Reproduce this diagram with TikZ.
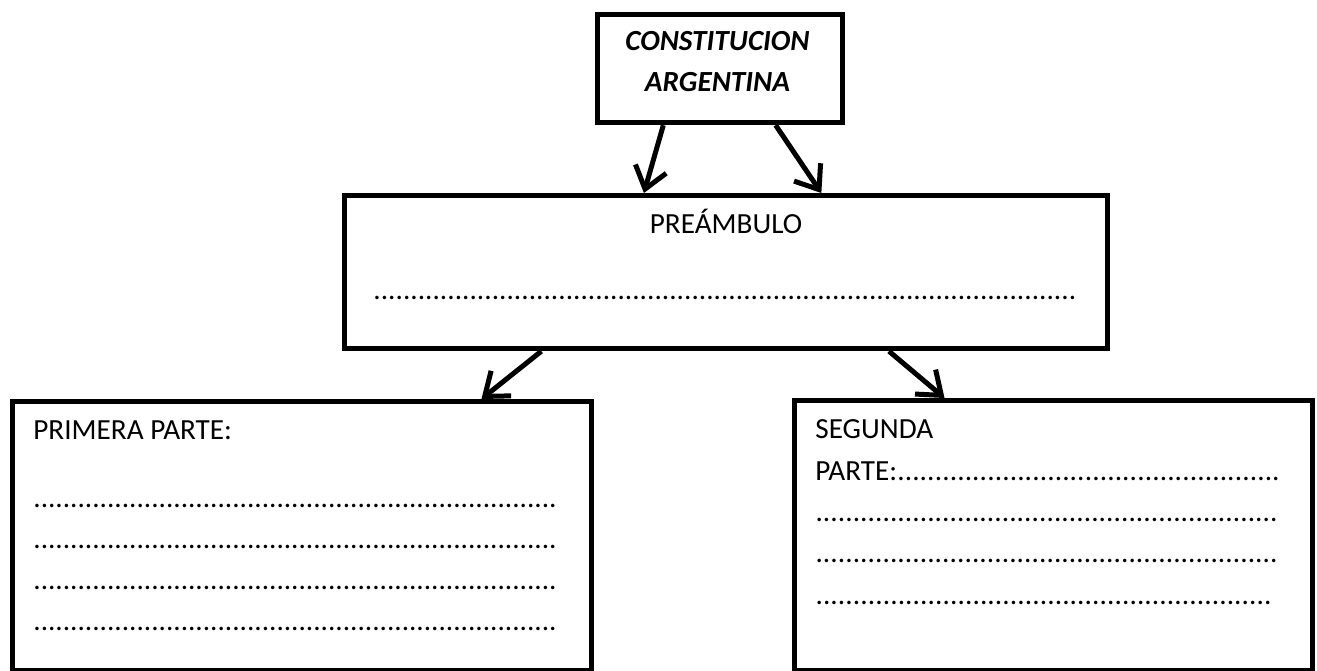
\documentclass[tikz,border=0pt]{standalone}
\usepackage{fontspec}
\setmainfont{Carlito}
\usetikzlibrary{arrows.meta,calc}
\newcommand\dotrow[1]{\hbox to #1{\xleaders\hbox{.}\hfill}}
\tikzset{
  box/.style={draw=black, line width=2.6pt, inner sep=0pt, anchor=north west},
  txt/.style={inner sep=0pt, font=\fontsize{14.6}{17}\selectfont},
  conn/.style={line width=2.5pt, -{Straight Barb[length=10.5pt,width=16pt,line width=2.5pt]}}
}
\begin{document}
\begin{tikzpicture}[x=0.5pt,y=-0.5pt]
\useasboundingbox (0,0) rectangle (1317,670);
% boxes
\node[box, minimum width=122.5pt, minimum height=54pt] (top) at (595,12) {};
\node[box, minimum width=381.5pt, minimum height=76.5pt] (mid) at (342,193) {};
\node[box, minimum width=289.5pt, minimum height=134.5pt] (left) at (10,399) {};
\node[box, minimum width=259pt, minimum height=135pt] (right) at (792,398) {};
% top texts
\node[txt, anchor=base, font=\fontsize{14.6}{17}\selectfont\bfseries\itshape] (t1) at (717.5,50) {CONSTITUCION};
\node[txt, anchor=base, font=\fontsize{14.6}{17}\selectfont\bfseries\itshape] (t2) at (717.5,91) {ARGENTINA};
% middle texts
\node[txt, anchor=base] (m1) at (726,233) {PREÁMBULO};
\node[txt, anchor=base west] (m2) at (373,299) {\dotrow{352pt}};
% left texts
\node[txt, anchor=base west] (l0) at (33,439) {PRIMERA PARTE:};
\node[txt, anchor=base west] (l1) at (33,507) {\dotrow{262pt}};
\node[txt, anchor=base west] (l2) at (33,548) {\dotrow{262pt}};
\node[txt, anchor=base west] (l3) at (33,589) {\dotrow{262pt}};
\node[txt, anchor=base west] (l4) at (33,630) {\dotrow{262pt}};
% right texts
\node[txt, anchor=base west] (r0) at (815,438) {SEGUNDA};
\node[txt, anchor=base west] (r1) at (815,480) {\hbox to 232.5pt{PARTE:\xleaders\hbox{.}\hfill}};
\node[txt, anchor=base west] (r2) at (815,521) {\dotrow{231.5pt}};
\node[txt, anchor=base west] (r3) at (815,562) {\dotrow{231.5pt}};
\node[txt, anchor=base west] (r4) at (815,604) {\dotrow{228.5pt}};
% connectors
\draw[conn] ($(top.south west)!0.273!(top.south east)$) -- ($(mid.north west)!0.393!(mid.north east)$);
\draw[conn] ($(top.south west)!0.722!(top.south east)$) -- ($(mid.north west)!0.624!(mid.north east)$);
\draw[conn] ($(mid.south west)!0.2595!(mid.south east)$) -- ($(left.north west)!0.807!(left.north east)$);
\draw[conn] ($(mid.south west)!0.712!(mid.south east)$) -- ($(right.north west)!0.2915!(right.north east)$);
\end{tikzpicture}
\end{document}
